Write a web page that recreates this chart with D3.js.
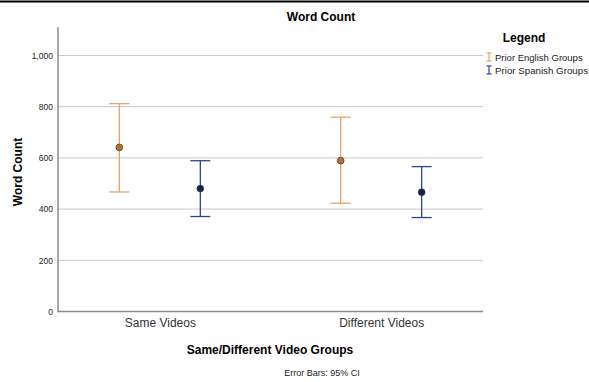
<!DOCTYPE html>
<html>
<head>
<meta charset="utf-8">
<script src="https://cdn.jsdelivr.net/npm/d3@7"></script>
<style>
  html, body { margin: 0; padding: 0; background: #fff; }
  svg { display: block; font-family: "Liberation Sans", Arial, sans-serif; }
</style>
</head>
<body>
<svg id="chart" width="589" height="382"></svg>
<script>
// Word count means with 95% confidence intervals, by video group and prior language group
const categories = ["Same Videos", "Different Videos"];
const seriesNames = ["Prior English Groups", "Prior Spanish Groups"];
const means = [[641, 480], [589, 466]];   // [category][series]
const lower = [[467, 371], [423, 367]];
const upper = [[812, 589], [759, 566]];
const yTicks = [0, 200, 400, 600, 800, 1000];
const seriesColors = ["#e6a464", "#2f4591"];
const pointFills = ["#b8722e", "#0f2357"];

const svg = d3.select("#chart");
const W = 589, H = 382;
const plot = { left: 58, right: 483, top: 27, bottom: 311.5 };

// Top frame line
svg.append("line").attr("x1", 0).attr("x2", W).attr("y1", 1.5).attr("y2", 1.5)
  .attr("stroke", "#000").attr("stroke-width", 2);

const y = d3.scaleLinear().domain([0, 1000]).range([plot.bottom, 55.5]);
const x = d3.scalePoint().domain(categories).range([plot.left, plot.right]).padding(0.46);
const xs = d3.scalePoint().domain(seriesNames).range([-40.5, 40.5]);

// Gridlines
svg.append("g").selectAll("line").data(yTicks.filter(d => d > 0)).join("line")
  .attr("x1", plot.left).attr("x2", plot.right)
  .attr("y1", d => y(d)).attr("y2", d => y(d))
  .attr("stroke", "#c8c8c8").attr("stroke-width", 1);

// Y axis
const yAxis = svg.append("g").attr("transform", `translate(${plot.left},0)`)
  .call(d3.axisLeft(y).tickValues(yTicks).tickSize(0).tickPadding(5).tickFormat(d3.format(",")));
yAxis.select(".domain").remove();
yAxis.selectAll("text").attr("font-size", 8.5).attr("fill", "#222")
  .attr("font-family", "Liberation Sans, Arial, sans-serif");
svg.append("line").attr("x1", plot.left).attr("x2", plot.left)
  .attr("y1", plot.top).attr("y2", plot.bottom + 0.75)
  .attr("stroke", "#8c8c8c").attr("stroke-width", 1.5);

// X axis
const xAxis = svg.append("g").attr("transform", `translate(0,${plot.bottom})`)
  .call(d3.axisBottom(x).tickSize(0).tickPadding(7));
xAxis.select(".domain").remove();
xAxis.selectAll("text").attr("font-size", 12).attr("fill", "#333")
  .attr("font-family", "Liberation Sans, Arial, sans-serif");
svg.append("line").attr("x1", plot.left).attr("x2", plot.right)
  .attr("y1", plot.bottom).attr("y2", plot.bottom)
  .attr("stroke", "#8c8c8c").attr("stroke-width", 1.5);

// Error bars
const rows = [];
categories.forEach((c, ci) => seriesNames.forEach((s, si) => {
  rows.push({ c, s, si, mean: means[ci][si], lo: lower[ci][si], hi: upper[ci][si] });
}));
const capHalf = 10;
const g = svg.append("g").selectAll("g").data(rows).join("g")
  .attr("transform", d => `translate(${x(d.c) + xs(d.s)},0)`);
g.append("line").attr("y1", d => y(d.lo)).attr("y2", d => y(d.hi))
  .attr("stroke", d => seriesColors[d.si]).attr("stroke-width", 1.3);
g.append("line").attr("x1", -capHalf).attr("x2", capHalf)
  .attr("y1", d => y(d.hi)).attr("y2", d => y(d.hi))
  .attr("stroke", d => seriesColors[d.si]).attr("stroke-width", 1.3);
g.append("line").attr("x1", -capHalf).attr("x2", capHalf)
  .attr("y1", d => y(d.lo)).attr("y2", d => y(d.lo))
  .attr("stroke", d => seriesColors[d.si]).attr("stroke-width", 1.3);
g.append("circle").attr("cy", d => y(d.mean)).attr("r", 3.4)
  .attr("fill", d => pointFills[d.si]).attr("stroke", "#3a3a3a").attr("stroke-width", 0.7);

// Titles
svg.append("text").attr("x", 321).attr("y", 21).attr("text-anchor", "middle")
  .attr("font-size", 12).attr("font-weight", "bold").text("Word Count");
svg.append("text").attr("transform", "translate(22,172) rotate(-90)").attr("text-anchor", "middle")
  .attr("font-size", 12).attr("font-weight", "bold").text("Word Count");
svg.append("text").attr("x", 270).attr("y", 354).attr("text-anchor", "middle")
  .attr("font-size", 12).attr("font-weight", "bold").text("Same/Different Video Groups");
svg.append("text").attr("x", 322).attr("y", 376).attr("text-anchor", "middle")
  .attr("font-size", 9).attr("fill", "#222").text("Error Bars: 95% CI");

// Legend
svg.append("text").attr("x", 524).attr("y", 42).attr("text-anchor", "middle")
  .attr("font-size", 12).attr("font-weight", "bold").text("Legend");
const leg = svg.append("g").selectAll("g").data(seriesNames).join("g")
  .attr("transform", (d, i) => `translate(489,${57 + i * 13})`);
leg.append("line").attr("y1", -4).attr("y2", 4)
  .attr("stroke", (d, i) => seriesColors[i]).attr("stroke-width", 1.2);
leg.append("line").attr("x1", -2.5).attr("x2", 2.5).attr("y1", -4).attr("y2", -4)
  .attr("stroke", (d, i) => seriesColors[i]).attr("stroke-width", 1.2);
leg.append("line").attr("x1", -2.5).attr("x2", 2.5).attr("y1", 4).attr("y2", 4)
  .attr("stroke", (d, i) => seriesColors[i]).attr("stroke-width", 1.2);
leg.append("text").attr("x", 6).attr("y", 3.5).attr("font-size", 9.5).attr("fill", "#222")
  .attr("textLength", (d, i) => i === 1 ? 93 : null)
  .attr("lengthAdjust", "spacingAndGlyphs")
  .text(d => d);
</script>
</body>
</html>
